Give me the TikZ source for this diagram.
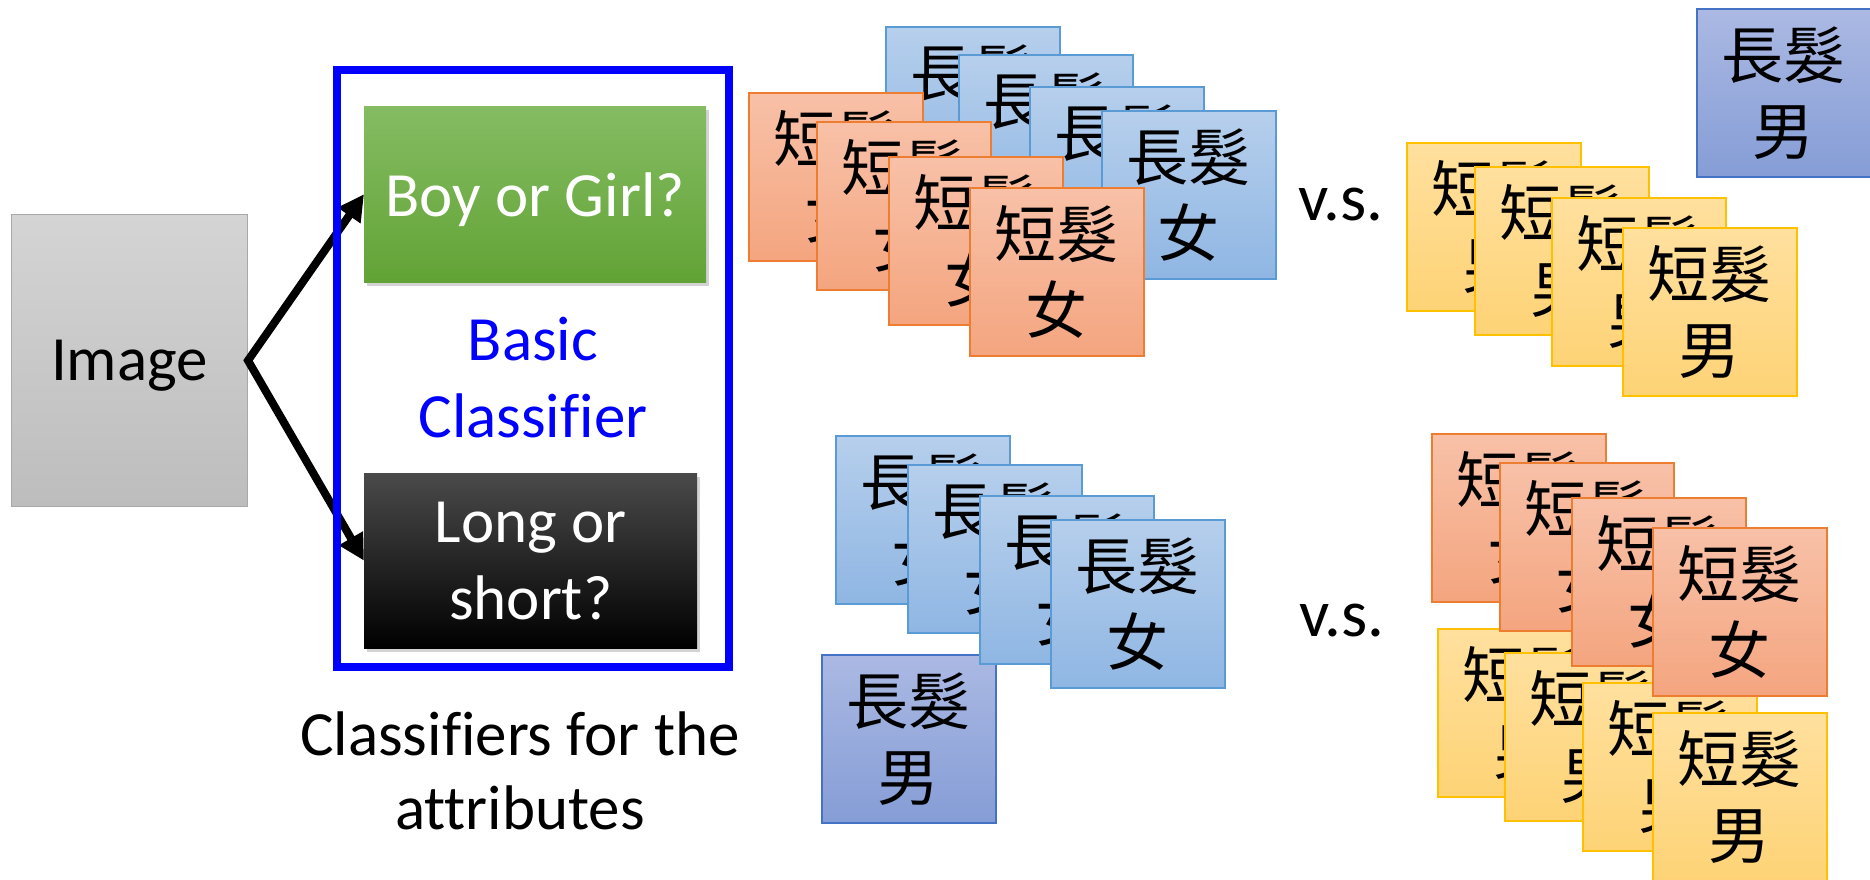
\documentclass[tikz,border=0pt]{standalone}
\usepackage{fontspec}
\setmainfont{Carlito}[Ligatures=CommonOff]
\newfontfamily\cjk{Noto Sans CJK TC}
\usepackage{tikz}
\usetikzlibrary{arrows.meta,shadows,positioning}
% Farben der Karten
\definecolor{blauOben}{RGB}{182,207,236}
\definecolor{blauUnten}{RGB}{143,182,227}
\definecolor{blauRand}{RGB}{91,155,213}
\definecolor{orOben}{RGB}{248,193,168}
\definecolor{orUnten}{RGB}{244,165,127}
\definecolor{orRand}{RGB}{237,125,49}
\definecolor{gelbOben}{RGB}{255,224,158}
\definecolor{gelbUnten}{RGB}{254,211,118}
\definecolor{gelbRand}{RGB}{255,192,0}
\definecolor{mannOben}{RGB}{171,185,227}
\definecolor{mannUnten}{RGB}{133,157,214}
\definecolor{mannRand}{RGB}{68,114,196}
\definecolor{gruenOben}{RGB}{133,188,99}
\definecolor{gruenUnten}{RGB}{98,163,53}
\definecolor{grauOben}{RGB}{212,212,212}
\definecolor{grauUnten}{RGB}{189,189,189}
\definecolor{grauRand}{RGB}{168,168,168}
\tikzset{
  karte/.style={draw, line width=1.6pt, anchor=north west, inner sep=0pt,
    minimum width=174pt, minimum height=168pt, align=center,
    font=\cjk\fontsize{62}{76}\selectfont},
  langfrau/.style={karte, draw=blauRand, top color=blauOben, bottom color=blauUnten},
  kurzfrau/.style={karte, draw=orRand, top color=orOben, bottom color=orUnten},
  kurzmann/.style={karte, draw=gelbRand, top color=gelbOben, bottom color=gelbUnten},
  langmann/.style={karte, draw=mannRand, top color=mannOben, bottom color=mannUnten},
  gross/.style={font=\fontsize{63}{77}\selectfont, align=center},
  frage/.style={gross, anchor=north west, inner sep=0pt, text=white, text depth=0pt,
    drop shadow={shadow xshift=3pt, shadow yshift=-4pt, opacity=.35}},
  pfeil/.style={line width=8pt,
    {Triangle[length=26pt,width=26pt]}-{Triangle[length=26pt,width=26pt]}},
}
\begin{document}
\begin{tikzpicture}[x=1pt,y=-1pt]
\useasboundingbox (0,0) rectangle (1870,879);
%Linke Seite: Bild und die beiden Klassifikatoren
\node[gross, anchor=north west, inner sep=0pt, text depth=0pt, minimum width=236pt, minimum height=292pt,
  draw=grauRand, line width=1pt, top color=grauOben, bottom color=grauUnten] (bild) at (11,214) {Image};
\node[frage, minimum width=342pt, minimum height=176pt,
  top color=gruenOben, bottom color=gruenUnten] (junge) at (364,106) {Boy or Girl?};
\node[frage, minimum width=333pt, minimum height=175pt,
  top color={rgb,255:red,74;green,74;blue,74}, middle color=black, bottom color=black] (haar) at (364,473) {Long or\\short?};
\draw[pfeil] (junge.west) -- (bild.east) -- (haar.west);
\draw[blue, line width=7.5pt] (337,70) rectangle (729,667);
\node[gross, text=blue] (basis) at (533,378) {Basic\\Classifier};
\node[font=\fontsize{63}{74}\selectfont, align=center] (attr) at (520,771) {Classifiers for the\\attributes};
%Oben: lange Haare Frau gegen kurze Haare Frau
\foreach \x/\y [count=\i] in {885/26,958/54,1029/86,1101/110}
  \node[langfrau] (lfa\i) at (\x,\y) {長髮\\女};
\foreach \x/\y [count=\i] in {748/92,816/121,888/156,969/187}
  \node[kurzfrau] (kfa\i) at (\x,\y) {短髮\\女};
\node[font=\fontsize{67}{76}\selectfont, anchor=base] (vsa) at (1341,220) {v.s.};
\foreach \x/\y [count=\i] in {1406/142,1474/166,1551/197,1622/227}
  \node[kurzmann] (kma\i) at (\x,\y) {短髮\\男};
\node[langmann] (lma) at (1696,8) {長髮\\男};
%Unten: lange Haare gegen kurze Haare
\node[langmann] (lmb) at (821,654) {長髮\\男};
\foreach \x/\y [count=\i] in {835/435,907/464,979/495,1050/519}
  \node[langfrau] (lfb\i) at (\x,\y) {長髮\\女};
\node[font=\fontsize{67}{76}\selectfont, anchor=base] (vsb) at (1342,636) {v.s.};
\foreach \x/\y [count=\i] in {1437/628,1504/652,1582/682,1652/712}
  \node[kurzmann] (kmb\i) at (\x,\y) {短髮\\男};
\foreach \x/\y [count=\i] in {1431/433,1499/462,1571/497,1652/527}
  \node[kurzfrau] (kfb\i) at (\x,\y) {短髮\\女};
\end{tikzpicture}
\end{document}
